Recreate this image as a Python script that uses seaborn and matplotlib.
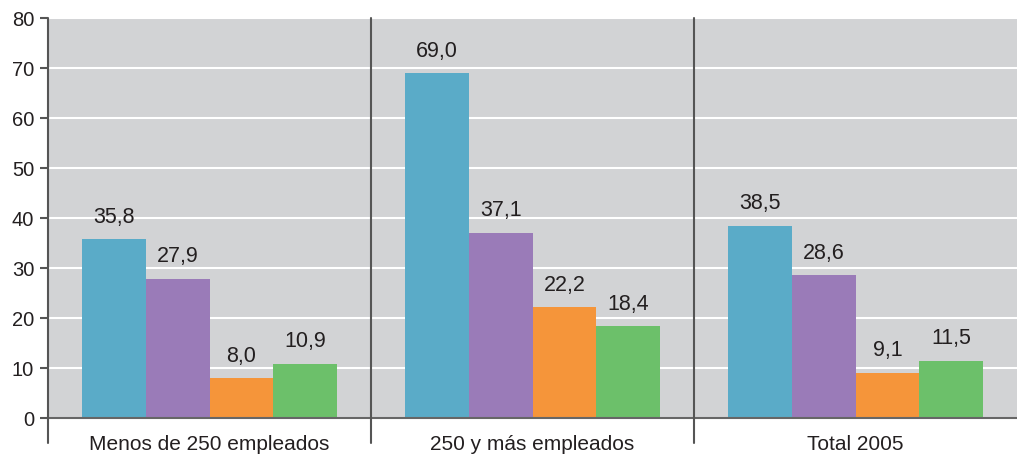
import matplotlib
matplotlib.use("Agg")
import matplotlib.pyplot as plt
import matplotlib.transforms as mtransforms
import seaborn as sns
import pandas as pd

# Company size groups and the four series shown for each group
categories = ["Menos de 250 empleados", "250 y más empleados", "Total 2005"]
series = ["Serie 1", "Serie 2", "Serie 3", "Serie 4"]
values_s1 = [35.8, 69.0, 38.5]
values_s2 = [27.9, 37.1, 28.6]
values_s3 = [8.0, 22.2, 9.1]
values_s4 = [10.9, 18.4, 11.5]
colors = ["#5aabc8", "#9a7bb8", "#f5953a", "#6cc06a"]
y_ticks = [0, 10, 20, 30, 40, 50, 60, 70, 80]

rows = []
for name, vals in zip(series, [values_s1, values_s2, values_s3, values_s4]):
    for cat, v in zip(categories, vals):
        rows.append({"grupo": cat, "serie": name, "valor": v})
df = pd.DataFrame(rows)

sns.set_theme(style="white")
plt.rcParams["font.family"] = ["Liberation Sans", "DejaVu Sans"]

fig = plt.figure(figsize=(10.17, 4.54), dpi=100)
ax = fig.add_axes([48 / 1017, 36 / 454, 969 / 1017, 400 / 454])
ax.set_facecolor("#d2d3d5")

sns.barplot(data=df, x="grupo", y="valor", hue="serie", order=categories,
            hue_order=series, palette=colors, width=0.79, saturation=1,
            linewidth=0, legend=False, ax=ax, zorder=3)

ax.set_xlim(-0.5, 2.5)
ax.set_ylim(0, 80)
ax.set_yticks(y_ticks)
ax.yaxis.grid(True, color="white", linewidth=1.5, zorder=0)
ax.set_axisbelow(True)
ax.set_xlabel("")
ax.set_ylabel("")

for spine in ["top", "right", "left"]:
    ax.spines[spine].set_visible(False)
ax.spines["bottom"].set_color("#666666")
ax.spines["bottom"].set_linewidth(1.5)
ax.spines["bottom"].set_zorder(5)

ax.tick_params(axis="y", left=True, length=6, width=1.5, color="#555555",
               labelsize=14.5, labelcolor="#231f20", pad=4)
ax.tick_params(axis="x", bottom=False, labelsize=15, labelcolor="#231f20", pad=6)

# Value labels above each bar, decimal comma
for container, vals in zip(ax.containers, [values_s1, values_s2, values_s3, values_s4]):
    labels = [f"{v:.1f}".replace(".", ",") for v in vals]
    ax.bar_label(container, labels=labels, padding=8, fontsize=15.5, color="#231f20")

# Left axis line and group separators, running below the baseline
trans = mtransforms.blended_transform_factory(ax.transData, ax.transAxes)
for x in [-0.5, 0.5, 1.5]:
    ax.plot([x, x], [-25 / 400, 1], transform=trans, color="#555555",
            linewidth=1.5, clip_on=False, zorder=6)

fig.savefig("out.png", dpi=100)
